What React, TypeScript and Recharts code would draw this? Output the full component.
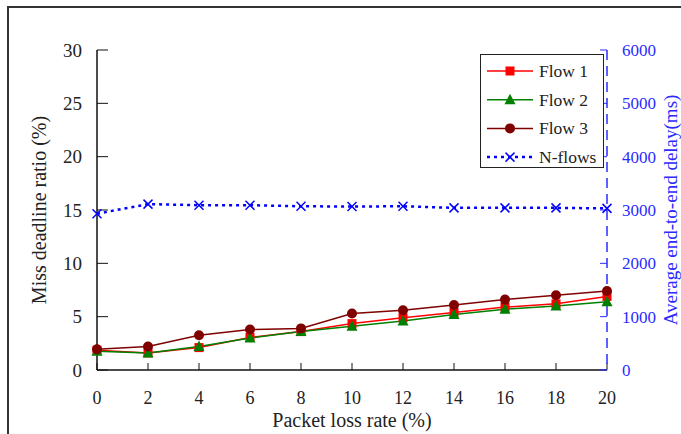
import React from 'react';
import { LineChart, Line, XAxis, YAxis, Legend } from 'recharts';

const lossRates = [0, 2, 4, 6, 8, 10, 12, 14, 16, 18, 20];
const flow1 = [1.85, 1.6, 2.1, 3.05, 3.6, 4.35, 4.9, 5.4, 5.9, 6.2, 6.9];
const flow2 = [1.75, 1.6, 2.2, 3.0, 3.6, 4.1, 4.6, 5.2, 5.7, 6.0, 6.4];
const flow3 = [1.95, 2.2, 3.25, 3.8, 3.9, 5.3, 5.6, 6.1, 6.6, 7.0, 7.4];
const nFlows = [2930, 3110, 3090, 3090, 3070, 3065, 3070, 3040, 3040, 3040, 3030];
const rateTicks = [0, 2, 4, 6, 8, 10, 12, 14, 16, 18, 20];
const ratioTicks = [0, 5, 10, 15, 20, 25, 30];
const delayTicks = [0, 1000, 2000, 3000, 4000, 5000, 6000];

const data = lossRates.map((rate, i) => ({
  rate,
  flow1: flow1[i],
  flow2: flow2[i],
  flow3: flow3[i],
  nflows: nFlows[i],
}));

const FONT = '"Liberation Serif", "DejaVu Serif", serif';
const BLUE = '#2b2bff';

function drawMarker(kind: string, cx: number, cy: number, key?: string) {
  switch (kind) {
    case 'square':
      return <rect key={key} x={cx - 4.5} y={cy - 4.5} width={9} height={9} fill="#ff0000" />;
    case 'triangle':
      return (
        <polygon
          key={key}
          points={`${cx},${cy - 6} ${cx - 5.5},${cy + 4.5} ${cx + 5.5},${cy + 4.5}`}
          fill="#008000"
        />
      );
    case 'circle':
      return <circle key={key} cx={cx} cy={cy} r={5} fill="#800000" />;
    default:
      return (
        <g key={key} stroke="#0000ff" strokeWidth={1.5}>
          <line x1={cx - 4.5} y1={cy - 4.5} x2={cx + 4.5} y2={cy + 4.5} />
          <line x1={cx - 4.5} y1={cy + 4.5} x2={cx + 4.5} y2={cy - 4.5} />
        </g>
      );
  }
}

const markers: Record<string, string> = {
  flow1: 'square',
  flow2: 'triangle',
  flow3: 'circle',
  nflows: 'cross',
};

const dotFor = (kind: string) => (props: any) =>
  drawMarker(kind, props.cx, props.cy, `${kind}-${props.index}`);

function LegendBox(props: any) {
  const { payload = [] } = props;
  return (
    <div
      style={{
        width: 124,
        height: 114,
        border: '1.5px solid #222',
        background: '#fff',
        boxSizing: 'border-box',
      }}
    >
      <svg width={121} height={111}>
        {payload.map((item: any, i: number) => {
          const y = 16 + i * 28.7;
          const key = item.dataKey as string;
          return (
            <g key={key}>
              <line
                x1={6}
                x2={52}
                y1={y}
                y2={y}
                stroke={item.color}
                strokeWidth={key === 'nflows' ? 2.5 : 1.5}
                strokeDasharray={key === 'nflows' ? '3 4' : undefined}
              />
              {drawMarker(markers[key], 29, y)}
              <text x={58} y={y + 6} fontSize={17.5} fontFamily={FONT} fill="#222">
                {item.value}
              </text>
            </g>
          );
        })}
      </svg>
    </div>
  );
}

export default function App() {
  return (
    <div
      style={{
        position: 'absolute',
        left: 0,
        top: 0,
        width: 681,
        height: 434,
        overflow: 'hidden',
        background: '#fff',
      }}
    >
      <div
        style={{
          position: 'absolute',
          left: 7,
          top: 6,
          width: 720,
          height: 520,
          border: '2px solid #333',
        }}
      />
      <div style={{ position: 'absolute', left: 0, top: 0 }}>
        <LineChart
          width={681}
          height={434}
          data={data}
          margin={{ top: 50, right: 0, bottom: 0, left: 0 }}
          style={{ fontFamily: FONT }}
        >
          <XAxis
            dataKey="rate"
            type="number"
            domain={[0, 20]}
            ticks={rateTicks}
            height={64}
            stroke="#000"
            axisLine={{ stroke: '#111', strokeWidth: 1.5 }}
            tickLine={{ stroke: '#111' }}
            tickSize={-7}
            tickMargin={28}
            tick={{ fontSize: 18, fill: '#222', fontFamily: FONT }}
            label={{
              value: 'Packet loss rate (%)',
              position: 'center',
              dy: 18,
              fontSize: 20,
              fill: '#222',
              fontFamily: FONT,
            }}
          />
          <YAxis
            yAxisId="left"
            domain={[0, 30]}
            ticks={ratioTicks}
            width={97}
            axisLine={{ stroke: '#111', strokeWidth: 1.5 }}
            tickLine={{ stroke: '#111' }}
            tickSize={-11}
            tickMargin={26}
            tick={{ fontSize: 19, fill: '#222', fontFamily: FONT }}
            label={{
              value: 'Miss deadline ratio (%)',
              angle: -90,
              position: 'center',
              dx: -10,
              fontSize: 20,
              fill: '#222',
              fontFamily: FONT,
            }}
          />
          <YAxis
            yAxisId="right"
            orientation="right"
            domain={[0, 6000]}
            ticks={delayTicks}
            width={74}
            axisLine={{ stroke: BLUE, strokeWidth: 1.5, strokeDasharray: '10 6' }}
            tickLine={{ stroke: BLUE }}
            tickSize={-7}
            tickMargin={22}
            tick={{ fontSize: 17, fill: BLUE, fontFamily: FONT }}
            label={{
              value: 'Average end-to-end delay(ms)',
              angle: -90,
              position: 'center',
              dx: 26,
              fontSize: 19,
              fill: BLUE,
              fontFamily: FONT,
            }}
          />
          <Legend
            layout="vertical"
            align="center"
            verticalAlign="middle"
            content={<LegendBox />}
            wrapperStyle={{ left: 480, top: 54, width: 124, height: 114 }}
          />
          <Line
            yAxisId="left"
            dataKey="flow1"
            name="Flow 1"
            stroke="#ff0000"
            strokeWidth={1.5}
            dot={dotFor('square')}
            isAnimationActive={false}
          />
          <Line
            yAxisId="left"
            dataKey="flow2"
            name="Flow 2"
            stroke="#008000"
            strokeWidth={1.5}
            dot={dotFor('triangle')}
            isAnimationActive={false}
          />
          <Line
            yAxisId="left"
            dataKey="flow3"
            name="Flow 3"
            stroke="#800000"
            strokeWidth={1.5}
            dot={dotFor('circle')}
            isAnimationActive={false}
          />
          <Line
            yAxisId="right"
            dataKey="nflows"
            name="N-flows"
            stroke="#0000ff"
            strokeWidth={2.5}
            strokeDasharray="3 4"
            dot={dotFor('cross')}
            isAnimationActive={false}
          />
        </LineChart>
      </div>
    </div>
  );
}
